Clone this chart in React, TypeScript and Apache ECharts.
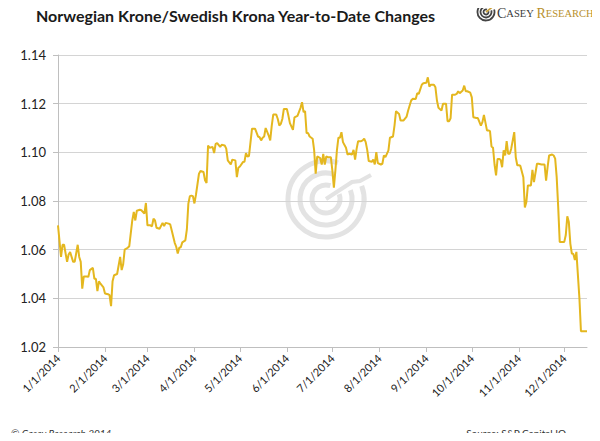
import React, { useRef, useEffect } from "react";
import * as echarts from "echarts";

// day offsets from 1/1/2014 and NOK/SEK rate
const sampleDays = [
  0, 2, 3, 4, 6, 7, 8, 10, 11, 13, 14, 15, 16, 17, 19, 20, 21, 23, 24, 25, 26, 27, 28, 30, 31, 33, 34, 35, 36, 37,
  39, 41, 42, 43, 44, 46, 47, 49, 50, 51, 52, 54, 55, 57, 58, 59, 61, 62, 63, 64, 65, 67, 69, 70, 71, 73, 74, 75,
  77, 78, 79, 80, 81, 82, 84, 85, 86, 87, 88, 89, 90, 91, 93, 94, 96, 97, 98, 99, 100, 102, 103, 104, 105, 107,
  108, 110, 111, 112, 114, 115, 117, 118, 119, 120, 122, 123, 124, 125, 126, 128, 130, 132, 133, 134, 135, 136,
  137, 139, 140, 141, 142, 144, 145, 146, 147, 148, 149, 151, 152, 153, 155, 156, 157, 158, 160, 161, 162, 163,
  164, 165, 166, 168, 169, 170, 171, 173, 174, 175, 176, 177, 178, 180, 181, 182, 183, 184, 185, 186, 187, 188,
  190, 191, 192, 194, 195, 196, 197, 198, 200, 201, 202, 203, 204, 205, 207, 208, 209, 210, 211, 213, 214, 215,
  216, 218, 219, 221, 222, 223, 225, 226, 228, 230, 231, 233, 234, 236, 237, 238, 240, 241, 243, 244, 245, 246,
  248, 249, 250, 251, 253, 254, 256, 257, 258, 259, 260, 262, 263, 264, 265, 267, 268, 269, 270, 272, 273, 274,
  276, 277, 279, 280, 281, 283, 284, 285, 286, 287, 288, 289, 290, 291, 292, 293, 294, 295, 296, 297, 298, 299,
  301, 302, 303, 304, 305, 307, 308, 309, 310, 312, 313, 314, 316, 317, 319, 321, 322, 323, 324, 326, 327, 328,
  329, 330, 331, 334, 335, 336, 337, 338, 339, 340, 341, 342, 344, 345, 347, 349,
];

const rates = [
  1.07, 1.057, 1.062, 1.062, 1.055, 1.058, 1.059, 1.055, 1.055, 1.062, 1.057, 1.055, 1.044, 1.049, 1.049, 1.0488,
  1.0516, 1.0525, 1.048, 1.048, 1.043, 1.047, 1.046, 1.0445, 1.042, 1.0417, 1.0413, 1.0368, 1.047, 1.0495, 1.05,
  1.057, 1.0516, 1.054, 1.06, 1.0608, 1.0614, 1.072, 1.0755, 1.072, 1.076, 1.0764, 1.0762, 1.0748, 1.0792, 1.07,
  1.07, 1.0696, 1.0727, 1.072, 1.069, 1.0686, 1.071, 1.0697, 1.071, 1.0707, 1.0704, 1.068, 1.0628, 1.0612, 1.0584,
  1.0608, 1.061, 1.063, 1.0638, 1.0682, 1.0789, 1.082, 1.0822, 1.082, 1.079, 1.0825, 1.0912, 1.0923, 1.0919,
  1.0885, 1.0874, 1.1028, 1.1019, 1.1022, 1.0997, 1.1035, 1.1038, 1.1022, 1.1031, 1.1028, 1.1015, 1.0967, 1.095,
  1.097, 1.0967, 1.0898, 1.0937, 1.0942, 1.096, 1.0961, 1.0997, 1.0983, 1.0985, 1.1097, 1.1097, 1.1065, 1.1062,
  1.1049, 1.106, 1.1065, 1.11, 1.1069, 1.1049, 1.1109, 1.1155, 1.1155, 1.1137, 1.111, 1.1117, 1.1137, 1.1178,
  1.1178, 1.1151, 1.112, 1.1092, 1.1144, 1.1147, 1.115, 1.1183, 1.1206, 1.1165, 1.117, 1.1079, 1.1079, 1.1065,
  1.1056, 1.1008, 1.0912, 1.0983, 1.0976, 1.095, 1.0994, 1.095, 1.0983, 1.098, 1.098, 1.0926, 1.0855, 1.0926,
  1.1008, 1.106, 1.106, 1.1083, 1.1042, 1.1019, 1.0991, 1.0994, 1.0991, 1.101, 1.097, 1.1014, 1.1046, 1.1046,
  1.1049, 1.1056, 1.1042, 1.101, 1.0964, 1.0961, 1.097, 1.095, 1.1001, 1.0956, 1.095, 1.0953, 1.0987, 1.098,
  1.1008, 1.106, 1.1065, 1.111, 1.1169, 1.1158, 1.1131, 1.1131, 1.1147, 1.1172, 1.1213, 1.122, 1.1219, 1.1243,
  1.124, 1.1278, 1.1284, 1.1286, 1.1308, 1.127, 1.1278, 1.1278, 1.1267, 1.1213, 1.1183, 1.1172, 1.12, 1.12,
  1.1128, 1.1128, 1.114, 1.1237, 1.1237, 1.124, 1.1251, 1.1243, 1.1254, 1.1274, 1.1251, 1.1251, 1.1245, 1.1226,
  1.1144, 1.1141, 1.1141, 1.111, 1.1124, 1.1154, 1.109, 1.109, 1.1087, 1.1024, 1.1019, 1.095, 1.0905, 1.0973,
  1.0973, 1.0969, 1.0939, 1.1008, 1.0987, 1.1046, 1.0994, 1.0994, 1.1015, 1.1083, 1.098, 1.0947, 1.0947, 1.0945,
  1.0898, 1.0773, 1.0796, 1.0864, 1.0864, 1.0928, 1.0878, 1.0953, 1.0953, 1.095, 1.095, 1.0884, 1.0939, 1.0987,
  1.0991, 1.0987, 1.0974, 1.0898, 1.0775, 1.0632, 1.0632, 1.066, 1.0737, 1.0714, 1.0625, 1.0584, 1.0582, 1.0557,
  1.0591, 1.04, 1.0265, 1.0265, 1.0265,
];

const totalDays = 350; // 1/1/2014 .. 12/16/2014
const yMin = 1.02;
const yMax = 1.14;
const yStep = 0.02;

const LINE = "#E4B71F";
const GRID = "#D4D4D4";
const FONT = "Lato, 'Open Sans', sans-serif";
const SERIF = "'Liberation Serif', serif";

// every calendar day is a category, ticks go on the 1st of each month
const categories: string[] = [];
for (let i = 0; i < totalDays; i++) {
  const dt = new Date(2014, 0, 1 + i);
  categories.push(`${dt.getMonth() + 1}/${dt.getDate()}/2014`);
}
const isMonthStart = (_i: number, v: string) => v.split("/")[1] === "1";

const App = () => {
  const chartRef = useRef<HTMLDivElement>(null);

  useEffect(() => {
    const chart = echarts.init(chartRef.current, null, { renderer: "svg" });
    const cx = 326;
    const cy = 199;
    const rings = [14, 26, 38].map((r) => ({
      type: "arc",
      z: 0,
      silent: true,
      shape: { cx, cy, r, startAngle: -0.35, endAngle: 2 * Math.PI - 1.25, clockwise: true },
      style: { stroke: "#E3E3E3", lineWidth: 5, fill: "none" },
    }));
    const logoRings = [2.5, 5.5, 8.5].map((r) => ({
      type: "arc",
      shape: { cx: 486, cy: 12, r, startAngle: -0.3, endAngle: 2 * Math.PI - 1.2, clockwise: true },
      style: { stroke: "#444", lineWidth: 1.8, fill: "none" },
    }));

    chart.setOption({
      animation: false,
      grid: { left: 58, right: 13, top: 55, bottom: 94 },
      xAxis: {
        type: "category",
        data: categories,
        boundaryGap: false,
        axisLine: { lineStyle: { color: "#BFBFBF", width: 1 } },
        axisTick: { interval: isMonthStart, length: 5, lineStyle: { color: "#BFBFBF" } },
        axisLabel: {
          interval: isMonthStart,
          rotate: 45,
          margin: 9,
          color: "#222",
          fontFamily: FONT,
          fontSize: 11,
        },
        splitLine: { show: false },
      },
      yAxis: {
        type: "value",
        min: yMin,
        max: yMax,
        interval: yStep,
        axisLine: { show: true, lineStyle: { color: "#BFBFBF" } },
        axisTick: { show: true, length: 5, lineStyle: { color: "#BFBFBF" } },
        axisLabel: {
          margin: 12,
          color: "#222",
          fontFamily: FONT,
          fontSize: 13,
          formatter: (v: number) => v.toFixed(2),
        },
        splitLine: { lineStyle: { color: GRID, width: 1 } },
      },
      graphic: [
        ...rings,
        {
          type: "polyline",
          silent: true,
          z: 0,
          shape: { points: [[cx, cy], [352, 182], [360, 181], [371, 175]] },
          style: { stroke: "#E3E3E3", lineWidth: 4, fill: "none" },
        },
        {
          type: "text",
          left: 36,
          top: 7,
          style: {
            text: "Norwegian Krone/Swedish Krona Year-to-Date Changes",
            fontFamily: FONT,
            fontWeight: "bold",
            fontSize: 16,
            fill: "#1a1a1a",
          },
        },
        ...logoRings,
        {
          type: "polyline",
          shape: { points: [[486, 12], [495, 5]] },
          style: { stroke: "#C9A03A", lineWidth: 1.6, fill: "none" },
        },
        {
          type: "text",
          x: 497,
          y: 13,
          style: {
            text: "{a|C}{b|ASEY }{c|R}{d|ESEARCH}",
            verticalAlign: "middle",
            rich: {
              a: { fontFamily: SERIF, fontSize: 14, fill: "#3a3a3a" },
              b: { fontFamily: SERIF, fontSize: 10.5, fill: "#3a3a3a" },
              c: { fontFamily: SERIF, fontSize: 14, fill: "#B8902C" },
              d: { fontFamily: SERIF, fontSize: 10.5, fill: "#B8902C" },
            },
          },
        },
        {
          type: "text",
          x: 11,
          y: 433,
          style: {
            text: "© Casey Research 2014",
            verticalAlign: "middle",
            fontFamily: FONT,
            fontStyle: "italic",
            fontSize: 10,
            fill: "#333",
          },
        },
        {
          type: "text",
          x: 566,
          y: 433,
          style: {
            text: "Source: S&P Capital IQ",
            align: "right",
            verticalAlign: "middle",
            fontFamily: FONT,
            fontSize: 10,
            fill: "#333",
          },
        },
      ],
      series: [
        {
          type: "line",
          data: sampleDays.map((d, i) => [d, rates[i]]),
          showSymbol: false,
          symbol: "none",
          z: 3,
          lineStyle: { color: LINE, width: 2 },
        },
      ],
    });
    return () => chart.dispose();
  }, []);

  return <div ref={chartRef} style={{ width: 600, height: 441, margin: -8 }} />;
};

export default App;
